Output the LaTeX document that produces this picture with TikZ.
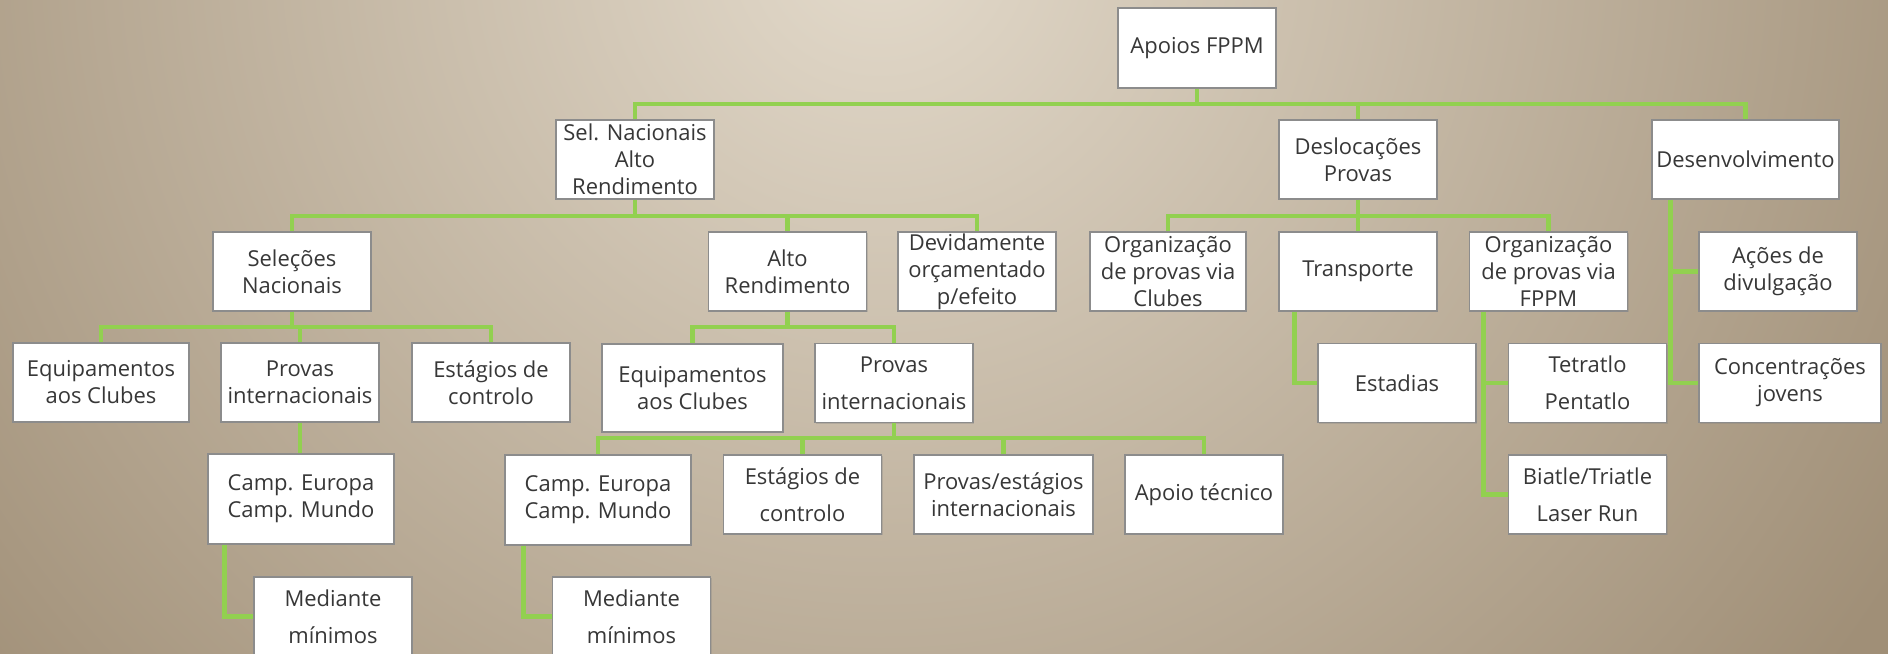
\documentclass[tikz,border=0pt]{standalone}
\usepackage{fontspec}
\setmainfont{Open Sans}
\usepackage[dvipsnames]{xcolor}
\usepackage{tikz}
\usetikzlibrary{shadows}

\definecolor{conngreen}{RGB}{146,208,80}
\definecolor{bglight}{RGB}{227,218,203}
\definecolor{bgdark}{RGB}{160,143,119}
\definecolor{boxtext}{RGB}{55,55,55}

\begin{document}
\begin{tikzpicture}[x=0.02cm, y=-0.02cm,
	orgbox/.style={draw=black!45, fill=white, line width=0.8pt, inner sep=0pt, align=center,
		minimum width=3.16cm, minimum height=1.58cm, text=boxtext,
		font=\fontsize{12.5}{15.4}\selectfont,
		drop shadow={shadow xshift=0.7pt, shadow yshift=-0.7pt, opacity=0.3}},
	conn/.style={draw=conngreen, line width=2.8pt}]
		% background
		\useasboundingbox (0,0) rectangle (1888,653);
		\begin{scope}
			\clip (0,0) rectangle (1888,653);
			\shade[inner color=bglight, outer color=bgdark] (-320,-1260) rectangle (2080,1140);
		\end{scope}
		% top
		\node[orgbox, minimum height=1.6cm] (apoios) at (1197,48) {Apoios FPPM};
		% level 1
		\node[orgbox] (sel) at (635,159.5) {Sel. Nacionais\\Alto\\Rendimento};
		\node[orgbox] (desl) at (1358,159.5) {Deslocações\\Provas};
		\node[orgbox, minimum width=3.74cm] (desenv) at (1745.5,159.5) {Desenvolvimento};
		% level 2
		\node[orgbox] (selnac) at (292,271.5) {Seleções\\Nacionais};
		\node[orgbox] (alto) at (787.5,271.5) {Alto\\Rendimento};
		\node[orgbox] (devid) at (977,271.5) {Devidamente\\orçamentado\\p/efeito};
		\node[orgbox, minimum width=3.12cm] (orgclub) at (1168,271.5) {Organização\\de provas via\\Clubes};
		\node[orgbox] (transp) at (1358,271.5) {Transporte};
		\node[orgbox] (orgfppm) at (1548.5,271.5) {Organização\\de provas via\\FPPM};
		\node[orgbox] (acoes) at (1778,271.5) {Ações de\\divulgação};
		% level 3
		\node[orgbox, minimum width=3.52cm] (equip1) at (101,382.5) {Equipamentos\\aos Clubes};
		\node[orgbox] (provas1) at (300,382.5) {Provas\\internacionais};
		\node[orgbox] (estag1) at (491,382.5) {Estágios de\\controlo};
		\node[orgbox, minimum width=3.62cm, minimum height=1.76cm] (equip2) at (692.5,388) {Equipamentos\\aos Clubes};
		\node[orgbox] (provas2) at (894,383) {Provas\\[5.6pt]internacionais};
		\node[orgbox] (estadias) at (1397,383) {Estadias};
		\node[orgbox] (tetra) at (1587.5,383) {Tetratlo\\[5.6pt]Pentatlo};
		\node[orgbox, minimum width=3.64cm] (concentr) at (1790,383) {Concentrações\\jovens};
		% level 4
		\node[orgbox, minimum width=3.72cm, minimum height=1.8cm] (camp1) at (301,499) {Camp. Europa\\Camp. Mundo};
		\node[orgbox, minimum width=3.72cm, minimum height=1.8cm] (camp2) at (598,500) {Camp. Europa\\Camp. Mundo};
		\node[orgbox] (estag2) at (802.5,494.5) {Estágios de\\[5.6pt]controlo};
		\node[orgbox, minimum width=3.58cm] (provest) at (1003.5,494.5) {Provas/estágios\\internacionais};
		\node[orgbox] (apoiotec) at (1204,494.5) {Apoio técnico};
		\node[orgbox] (biatle) at (1587.5,494.5) {Biatle/Triatle\\[5.6pt]Laser Run};
		% level 5
		\node[orgbox] (med1) at (333,616.5) {Mediante\\[5.6pt]mínimos};
		\node[orgbox] (med2) at (631.5,616.5) {Mediante\\[5.6pt]mínimos};
		% bars
		\coordinate (bar0) at (0,104);
		\coordinate (bar1) at (0,216);
		\coordinate (bar2) at (0,327);
		\coordinate (bar3) at (0,438);
		\foreach \n in {sel,desl,desenv}
			\draw[conn] (apoios.south) |- (bar0 -| \n.north) -- (\n.north);
		\foreach \n in {selnac,alto,devid}
			\draw[conn] (sel.south) |- (bar1 -| \n.north) -- (\n.north);
		\foreach \n in {orgclub,transp,orgfppm}
			\draw[conn] (desl.south) |- (bar1 -| \n.north) -- (\n.north);
		\foreach \n in {equip1,provas1,estag1}
			\draw[conn] (selnac.south) |- (bar2 -| \n.north) -- (\n.north);
		\foreach \n in {equip2,provas2}
			\draw[conn] (alto.south) |- (bar2 -| \n.north) -- (\n.north);
		\foreach \n in {camp2,estag2,provest,apoiotec}
			\draw[conn] (provas2.south) |- (bar3 -| \n.north) -- (\n.north);
		\draw[conn] (provas1.south) -- (provas1.south |- camp1.north);
		% side branches
		\draw[conn] (desenv.south west) ++(19,0) |- (acoes.west);
		\draw[conn] (desenv.south west) ++(19,0) |- (concentr.west);
		\draw[conn] (transp.south west) ++(16,0) |- (estadias.west);
		\draw[conn] (orgfppm.south west) ++(15,0) |- (tetra.west);
		\draw[conn] (orgfppm.south west) ++(15,0) |- (biatle.west);
		\draw[conn] (camp1.south west) ++(17,0) |- (med1.west);
		\draw[conn] (camp2.south west) ++(19,0) |- (med2.west);
\end{tikzpicture}
\end{document}
